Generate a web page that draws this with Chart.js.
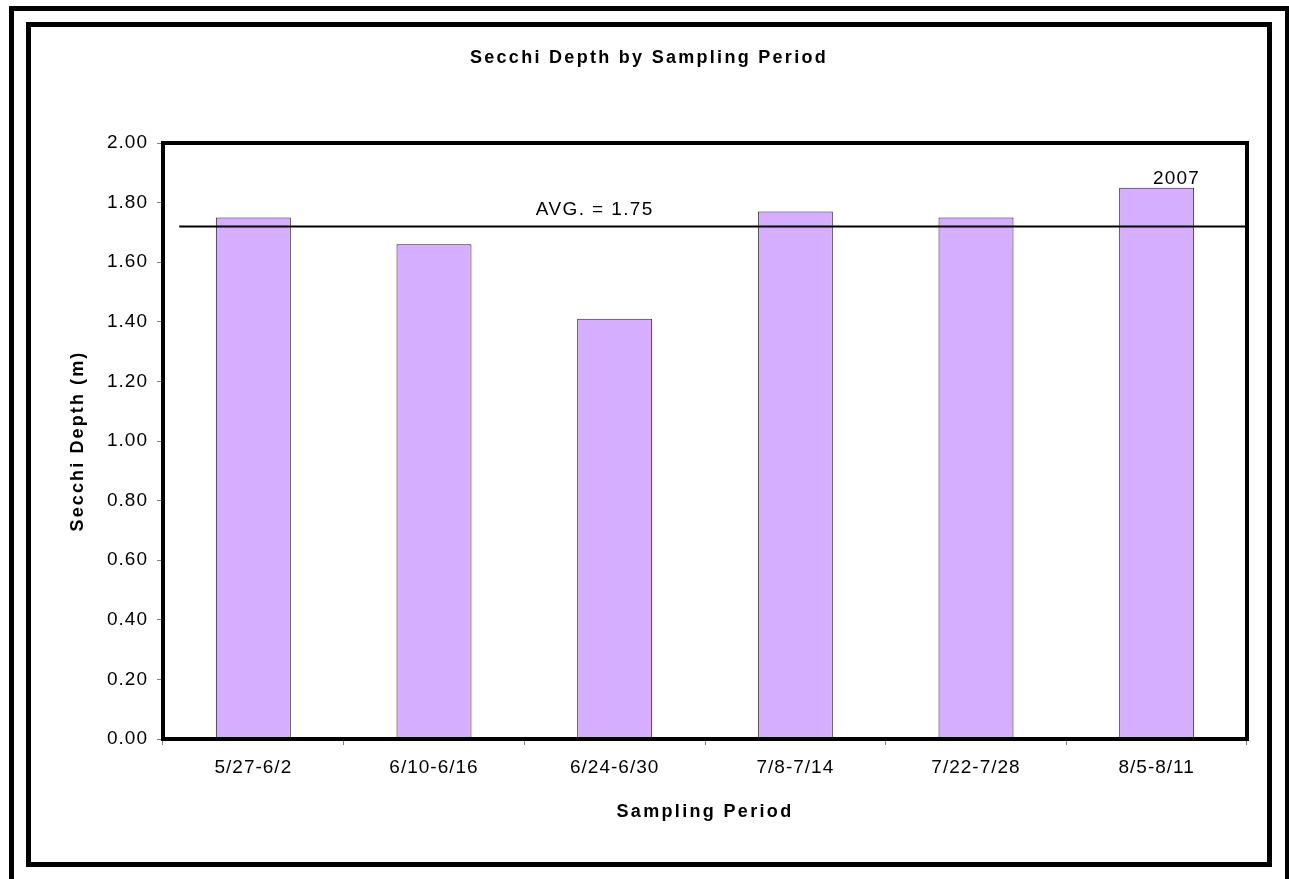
<!DOCTYPE html>
<html>
<head>
<meta charset="utf-8">
<script src="https://cdn.jsdelivr.net/npm/chart.js@4/dist/chart.umd.min.js"></script>
<style>
  html, body { margin: 0; padding: 0; background: #fff; }
  #wrap { position: relative; width: 1289px; height: 879px; overflow: hidden; }
  #c { position: absolute; left: 0; top: 0; }
  .box { position: absolute; border: 5px solid #000; pointer-events: none; box-sizing: border-box; }
</style>
</head>
<body>
<div id="wrap">
  <canvas id="c" width="1289" height="879"></canvas>
  <div class="box" style="left:9px; top:6px; width:1281px; height:900px;"></div>
  <div class="box" style="left:26px; top:22px; width:1246px; height:845px;"></div>
</div>
<script>
// ---- data ----
const categories = ['5/27-6/2', '6/10-6/16', '6/24-6/30', '7/8-7/14', '7/22-7/28', '8/5-8/11'];
const secchiDepth = [1.75, 1.66, 1.41, 1.77, 1.75, 1.85];
const avgLinePoints = [{ x: 0.09, y: 1.72 }, { x: 6, y: 1.72 }];
const avgLabel = 'AVG. = 1.75';
const avgLabelPos = { x: 2.39, y: 1.72 };
const yearLabel = '2007';
const yearLabelPos = { x: 5.61, y: 1.85 };
const yMin = 0, yMax = 2, yStep = 0.2;
const chartTitle = 'Secchi Depth by Sampling Period';
const xTitle = 'Sampling Period';
const yTitle = 'Secchi Depth (m)';

const FONT = 'Arial, "Liberation Sans", sans-serif';

function fitText(ctx, text, targetWidth) {
  ctx.letterSpacing = '0px';
  const w = ctx.measureText(text).width;
  const n = text.length;
  const ls = (targetWidth - w) / n;
  ctx.letterSpacing = ls.toFixed(2) + 'px';
  return ls;
}

const spacingPlugin = {
  id: 'spacing',
  beforeInit(chart) { chart.ctx.letterSpacing = '1px'; },
  beforeUpdate(chart) { chart.ctx.letterSpacing = '1px'; },
  beforeDraw(chart) { chart.ctx.letterSpacing = '1px'; }
};

const decorPlugin = {
  id: 'decor',
  afterDatasetsDraw(chart) {
    const { ctx, chartArea: a } = chart;
    ctx.save();
    ctx.letterSpacing = '0px';
    ctx.strokeStyle = '#000';
    ctx.lineWidth = 4;
    ctx.strokeRect(a.left, a.top, a.right - a.left, a.bottom - a.top);
    ctx.restore();
  },
  afterDraw(chart) {
    const { ctx, chartArea: a, scales } = chart;
    const xs = scales.xAvg, ys = scales.y;
    ctx.save();
    ctx.fillStyle = '#000';

    // title
    ctx.font = 'bold 18px ' + FONT;
    ctx.textAlign = 'center';
    ctx.textBaseline = 'middle';
    fitText(ctx, chartTitle, 358);
    ctx.fillText(chartTitle, 649, 58);

    // x title
    ctx.font = 'bold 18px ' + FONT;
    fitText(ctx, xTitle, 177);
    ctx.fillText(xTitle, (a.left + a.right) / 2, 812);

    // y title
    ctx.save();
    ctx.translate(78, (a.top + a.bottom) / 2);
    ctx.rotate(-Math.PI / 2);
    ctx.font = 'bold 18px ' + FONT;
    fitText(ctx, yTitle, 181);
    ctx.fillText(yTitle, 0, 0);
    ctx.restore();

    // avg label
    ctx.font = '19px ' + FONT;
    ctx.textBaseline = 'alphabetic';
    fitText(ctx, avgLabel, 118);
    ctx.fillText(avgLabel, xs.getPixelForValue(avgLabelPos.x), ys.getPixelForValue(avgLabelPos.y) - 11);

    // year label
    fitText(ctx, yearLabel, 47);
    ctx.fillText(yearLabel, xs.getPixelForValue(yearLabelPos.x), ys.getPixelForValue(yearLabelPos.y) - 4);
    ctx.restore();
  }
};

new Chart(document.getElementById('c'), {
  type: 'bar',
  data: {
    labels: categories,
    datasets: [
      {
        label: 'Secchi Depth',
        data: secchiDepth,
        backgroundColor: '#D6AEFF',
        borderColor: '#222222',
        borderWidth: 1,
        categoryPercentage: 1,
        barPercentage: 0.415,
        grouped: false,
        xAxisID: 'x',
        yAxisID: 'y',
        order: 2
      },
      {
        type: 'line',
        label: 'Average',
        data: avgLinePoints,
        xAxisID: 'xAvg',
        yAxisID: 'y',
        borderColor: '#000',
        borderWidth: 2,
        pointRadius: 0,
        fill: false,
        order: 1
      }
    ]
  },
  options: {
    responsive: false,
    animation: false,
    devicePixelRatio: 1,
    layout: { padding: { top: 143, right: 42, left: 0, bottom: 0 } },
    plugins: {
      legend: { display: false },
      title: { display: false },
      tooltip: { enabled: false }
    },
    scales: {
      x: {
        type: 'category',
        offset: true,
        grid: { offset: true, drawOnChartArea: false, color: '#808080', tickLength: 6, lineWidth: 1 },
        border: { display: false },
        ticks: { color: '#000', font: { size: 19, family: FONT }, padding: 11, maxRotation: 0, autoSkip: false },
        afterFit(s) { s.height = 140; }
      },
      xAvg: {
        type: 'linear', display: false, min: 0, max: 6, offset: false,
        grid: { offset: false }
      },
      y: {
        min: yMin,
        max: yMax,
        ticks: {
          stepSize: yStep,
          color: '#000',
          font: { size: 19, family: FONT },
          padding: 9,
          callback: v => Number(v).toFixed(2)
        },
        grid: { drawOnChartArea: false, color: '#808080', tickLength: 6, lineWidth: 1 },
        border: { display: false },
        afterFit(s) { s.width = 163; }
      }
    }
  },
  plugins: [spacingPlugin, decorPlugin]
});
</script>
</body>
</html>
